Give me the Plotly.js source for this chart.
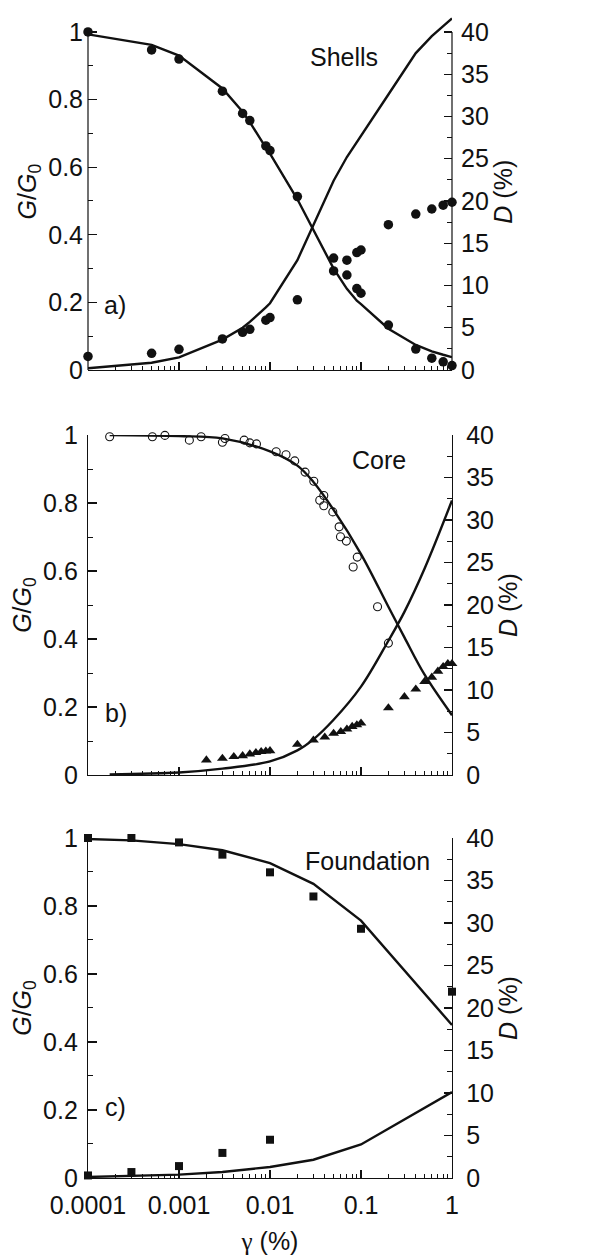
<!DOCTYPE html>
<html>
<head>
<meta charset="utf-8">
<script src="https://cdn.plot.ly/plotly-3.0.1.min.js"></script>
<style>html,body{margin:0;padding:0;background:#fff;}#chart{width:602px;height:1255px;}</style>
</head>
<body>
<div id="chart"></div>
<script>
// ---------- Panel a: Shells ----------
const shellsStrain = [1e-4, 5e-4, 1e-3, 3e-3, 5e-3, 6e-3, 9e-3, 1e-2, 2e-2, 5e-2, 7e-2, 9e-2, 0.1, 0.2, 0.4, 0.6, 0.8, 1];
const shellsG_meas = [1.0, 0.947, 0.920, 0.825, 0.759, 0.738, 0.663, 0.649, 0.513, 0.293, 0.281, 0.241, 0.227, 0.133, 0.062, 0.035, 0.024, 0.013];
const shellsD_meas = [1.6, 1.97, 2.45, 3.67, 4.46, 4.81, 5.9, 6.2, 8.3, 13.25, 13.0, 13.9, 14.2, 17.2, 18.45, 19.05, 19.5, 19.85];
const shellsG_model = [0.993, 0.962, 0.930, 0.833, 0.764, 0.733, 0.658, 0.640, 0.505, 0.300, 0.240, 0.205, 0.195, 0.122, 0.074, 0.055, 0.045, 0.038];
const shellsD_model = [0.2, 0.85, 1.5, 3.6, 5.0, 5.7, 7.4, 7.9, 13.0, 22.4, 25.2, 27.0, 27.8, 32.6, 37.5, 39.5, 40.7, 41.6];

// ---------- Panel b: Core ----------
const coreG_strain = [1.73e-4, 5.1e-4, 7e-4, 1.3e-3, 1.75e-3, 3e-3, 3.2e-3, 5.2e-3, 6e-3, 7.1e-3, 1.17e-2, 1.5e-2, 1.87e-2, 2.43e-2, 3.03e-2, 3.52e-2, 3.9e-2, 3.9e-2, 4.9e-2, 5.75e-2, 5.95e-2, 6.9e-2, 8.2e-2, 9.1e-2, 0.152, 0.2];
const coreG_meas = [0.995, 0.995, 0.999, 0.985, 0.995, 0.979, 0.990, 0.985, 0.977, 0.974, 0.951, 0.942, 0.924, 0.891, 0.864, 0.808, 0.822, 0.792, 0.774, 0.730, 0.701, 0.688, 0.612, 0.641, 0.495, 0.388];
const coreD_strain = [2e-3, 3e-3, 4e-3, 5e-3, 6e-3, 7e-3, 8e-3, 9e-3, 1e-2, 2e-2, 3e-2, 4e-2, 5e-2, 6e-2, 7e-2, 8e-2, 9e-2, 0.1, 0.2, 0.3, 0.4, 0.5, 0.6, 0.7, 0.8, 0.9, 1.0];
const coreD_meas = [1.76, 1.96, 2.16, 2.27, 2.47, 2.63, 2.75, 2.8, 2.85, 3.6, 4.1, 4.45, 4.9, 5.1, 5.4, 5.7, 5.9, 6.1, 7.9, 9.2, 10.1, 11.0, 11.5, 12.2, 12.75, 13.1, 13.1];
const coreModelStrain = [1.73e-4, 1e-3, 3e-3, 1e-2, 2e-2, 3e-2, 5e-2, 0.1, 0.2, 0.3, 0.5, 1];
const coreG_model = [1.0, 0.997, 0.99, 0.952, 0.91, 0.862, 0.78, 0.65, 0.495, 0.405, 0.295, 0.176];
const coreD_model = [0.08, 0.3, 0.75, 1.6, 2.9, 4.2, 6.5, 10.4, 15.8, 19.2, 24.3, 32.3];

// ---------- Panel c: Foundation ----------
const foundStrain = [1e-4, 3e-4, 1e-3, 3e-3, 1e-2, 3e-2, 0.1, 1];
const foundG_meas = [1.0, 1.0, 0.987, 0.951, 0.899, 0.828, 0.733, 0.548];
const foundD_strain = [1e-4, 3e-4, 1e-3, 3e-3, 1e-2];
const foundD_meas = [0.3, 0.7, 1.4, 2.95, 4.5];
const foundG_model = [0.997, 0.993, 0.982, 0.964, 0.926, 0.865, 0.757, 0.450];
const foundD_model = [0.12, 0.24, 0.4, 0.7, 1.3, 2.15, 3.95, 10.1];

// ---------- Ticks / labels ----------
const xTickVals = [1e-4, 1e-3, 1e-2, 1e-1, 1];
const xTickText = ['0.0001', '0.001', '0.01', '0.1', '1'];
const xMinorVals = [];
[1e-4, 1e-3, 1e-2, 1e-1].forEach(d => { for (let k = 2; k <= 9; k++) xMinorVals.push(d * k); });
const panelNames = ['Shells', 'Core', 'Foundation'];
const panelTags = ['a)', 'b)', 'c)'];

const FONT = 'Liberation Sans, Arial, sans-serif';
const FS = 25;
const BLACK = '#111';
const LW = 2.4;

const traces = [
  // panel a
  {x: shellsStrain, y: shellsG_model, xaxis: 'x', yaxis: 'y', mode: 'lines', line: {color: BLACK, width: LW}},
  {x: shellsStrain, y: shellsD_model, xaxis: 'x', yaxis: 'y2', mode: 'lines', line: {color: BLACK, width: LW}},
  {x: shellsStrain, y: shellsG_meas, xaxis: 'x', yaxis: 'y', mode: 'markers', cliponaxis: false, marker: {symbol: 'circle', size: 9.5, color: BLACK}},
  {x: shellsStrain, y: shellsD_meas, xaxis: 'x', yaxis: 'y2', mode: 'markers', cliponaxis: false, marker: {symbol: 'circle', size: 9.5, color: BLACK}},
  // panel b
  {x: coreModelStrain, y: coreG_model, xaxis: 'x2', yaxis: 'y3', mode: 'lines', line: {color: BLACK, width: LW, shape: 'spline', smoothing: 1}},
  {x: coreModelStrain, y: coreD_model, xaxis: 'x2', yaxis: 'y4', mode: 'lines', line: {color: BLACK, width: LW, shape: 'spline', smoothing: 1}},
  {x: coreG_strain, y: coreG_meas, xaxis: 'x2', yaxis: 'y3', mode: 'markers', cliponaxis: false, marker: {symbol: 'circle-open', size: 8, color: BLACK, line: {width: 1.1, color: BLACK}}},
  {x: coreD_strain, y: coreD_meas, xaxis: 'x2', yaxis: 'y4', mode: 'markers', cliponaxis: false, marker: {symbol: 'triangle-up', size: 9.5, color: BLACK}},
  // panel c
  {x: foundStrain, y: foundG_model, xaxis: 'x3', yaxis: 'y5', mode: 'lines', line: {color: BLACK, width: LW}},
  {x: foundStrain, y: foundD_model, xaxis: 'x3', yaxis: 'y6', mode: 'lines', line: {color: BLACK, width: LW}},
  {x: foundStrain, y: foundG_meas, xaxis: 'x3', yaxis: 'y5', mode: 'markers', cliponaxis: false, marker: {symbol: 'square', size: 8, color: BLACK}},
  {x: foundD_strain, y: foundD_meas, xaxis: 'x3', yaxis: 'y6', mode: 'markers', cliponaxis: false, marker: {symbol: 'square', size: 8, color: BLACK}}
];

const domains = [[0.6918, 0.9971], [0.3450, 0.6361], [0.0, 0.2911]];
const gTop = [1.055, 1, 1];

function xAxis(i) {
  const ax = {
    type: 'log', range: [-4, 0], domain: [0, 1],
    anchor: i === 0 ? 'y' : 'y' + (2 * i + 1),
    showline: true, linecolor: BLACK, linewidth: 1.2, mirror: false,
    ticks: 'inside', ticklen: 8, tickwidth: 1.1, tickcolor: BLACK,
    tickmode: 'array', tickvals: xTickVals, ticktext: xTickText,
    showticklabels: i === 2, showgrid: false, zeroline: false,
    ticklabelstandoff: 5,
    tickfont: {family: FONT, size: FS, color: BLACK},
    minor: {tickmode: 'array', tickvals: xMinorVals, ticks: 'inside', ticklen: 4, tickwidth: 1, tickcolor: BLACK, showgrid: false}
  };
  if (i === 2) ax.title = {text: '<span style="font-family:Liberation Serif, Times New Roman, serif">γ</span> (%)', font: {family: FONT, size: FS, color: BLACK}, standoff: 16};
  return ax;
}
function gAxis(i) {
  return {
    domain: domains[i], range: [0, gTop[i]], anchor: i === 0 ? 'x' : 'x' + (i + 1),
    showline: i !== 0, linecolor: BLACK, linewidth: 1.2,
    ticks: 'inside', ticklen: 9, tickwidth: 1.1, tickcolor: BLACK,
    tickmode: 'array', tickvals: [0, 0.2, 0.4, 0.6, 0.8, 1], ticktext: ['0', '0.2', '0.4', '0.6', '0.8', '1'],
    minor: {tickmode: 'array', tickvals: [0.1, 0.3, 0.5, 0.7, 0.9], ticks: 'inside', ticklen: 5, tickwidth: 1, tickcolor: BLACK, showgrid: false},
    showgrid: false, zeroline: false,
    ticklabelstandoff: 4,
    tickfont: {family: FONT, size: FS, color: BLACK},
    title: {text: '<i>G</i>/<i>G</i><sub>0</sub>', font: {family: FONT, size: FS, color: BLACK}, standoff: 4}
  };
}
function dAxis(i) {
  return {
    domain: domains[i], range: [0, 40 * gTop[i]], anchor: i === 0 ? 'x' : 'x' + (i + 1),
    overlaying: i === 0 ? 'y' : 'y' + (2 * i + 1), side: 'right',
    showline: i !== 0, linecolor: BLACK, linewidth: 1.2,
    ticks: 'inside', ticklen: 8, tickwidth: 1.1, tickcolor: BLACK,
    tickmode: 'array', tickvals: [0, 5, 10, 15, 20, 25, 30, 35, 40],
    minor: {tickmode: 'array', tickvals: [2.5, 7.5, 12.5, 17.5, 22.5, 27.5, 32.5, 37.5], ticks: 'inside', ticklen: 5, tickwidth: 1, tickcolor: BLACK, showgrid: false},
    showgrid: false, zeroline: false,
    ticklabelstandoff: 8,
    tickfont: {family: FONT, size: FS, color: BLACK},
    title: {text: '<i>D</i> (%)', font: {family: FONT, size: FS, color: BLACK}, standoff: 4}
  };
}

const layout = {
  width: 602, height: 1255,
  margin: {l: 88, r: 150, t: 10, b: 77},
  paper_bgcolor: '#fff', plot_bgcolor: '#fff',
  showlegend: false,
  font: {family: FONT, size: FS, color: BLACK},
  xaxis: xAxis(0), xaxis2: xAxis(1), xaxis3: xAxis(2),
  yaxis: gAxis(0), yaxis2: dAxis(0),
  yaxis3: gAxis(1), yaxis4: dAxis(1),
  yaxis5: gAxis(2), yaxis6: dAxis(2),
  shapes: [
    {type: 'line', xref: 'x domain', yref: 'y', x0: 0, x1: 0, y0: 0, y1: 1, line: {color: BLACK, width: 1.2}},
    {type: 'line', xref: 'x domain', yref: 'y', x0: 1, x1: 1, y0: 0, y1: 1, line: {color: BLACK, width: 1.2}}
  ],
  annotations: [
    {xref: 'x', yref: 'y', x: -1.19, y: 0.926, text: panelNames[0], showarrow: false, font: {family: FONT, size: FS, color: BLACK}},
    {xref: 'x2', yref: 'y3', x: -0.807, y: 0.926, text: panelNames[1], showarrow: false, font: {family: FONT, size: FS, color: BLACK}},
    {xref: 'x3', yref: 'y5', x: -0.925, y: 0.931, text: panelNames[2], showarrow: false, font: {family: FONT, size: FS, color: BLACK}},
    {xref: 'x', yref: 'y', x: -3.70, y: 0.192, text: panelTags[0], showarrow: false, font: {family: FONT, size: FS, color: BLACK}},
    {xref: 'x2', yref: 'y3', x: -3.69, y: 0.181, text: panelTags[1], showarrow: false, font: {family: FONT, size: FS, color: BLACK}},
    {xref: 'x3', yref: 'y5', x: -3.70, y: 0.209, text: panelTags[2], showarrow: false, font: {family: FONT, size: FS, color: BLACK}}
  ]
};

Plotly.newPlot('chart', traces, layout, {staticPlot: true, displayModeBar: false});
</script>
</body>
</html>
